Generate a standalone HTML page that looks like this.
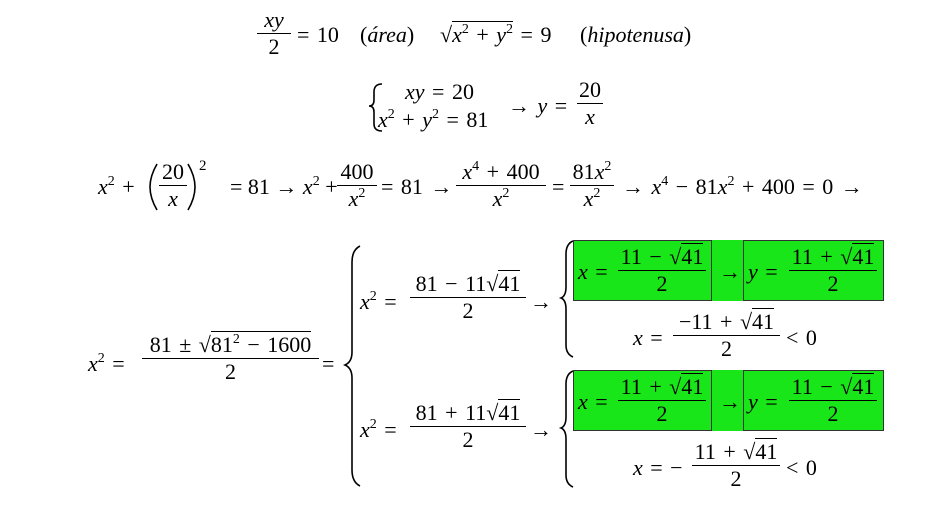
<!DOCTYPE html>
<html><head><meta charset="utf-8"><style>
body{margin:0;background:#fff;}
#c{position:relative;width:938px;height:516px;overflow:hidden;font-family:"Liberation Serif","DejaVu Serif",serif;color:#000;}
.t{position:absolute;white-space:nowrap;line-height:24px;font-size:22px;word-spacing:2px;}
i{font-style:italic;}
sup{font-size:14px;vertical-align:9px;line-height:0;}
.f{position:absolute;font-size:22px;line-height:24px;text-align:center;white-space:nowrap;word-spacing:2px;}
.f .n{padding-bottom:1px;}
.f .d{border-top:1.3px solid #000;padding-top:1px;}
.sq{border-top:1.3px solid #000;}
.g{position:absolute;background:#18e618;}
.b{position:absolute;border:1px solid #333;}
</style></head><body><div id="c">
<svg style="position:absolute;left:0;top:0" width="938" height="516">
<g fill="none" stroke="#000" stroke-width="1.6">
<path d="M382 84 Q374 84 374 92 L374 100 Q374 106 369 106 Q374 106 374 112 L374 124 Q374 131 382 131"/>
<path d="M360 246 Q352 250 352 262 L352 352 Q352 362 345 365 Q352 368 352 378 L352 470 Q352 482 360 486"/>
<path d="M573 241 Q566 244 566 254 L566 287 Q566 296 561 298 Q566 300 566 309 L566 345 Q566 354 573 357"/>
<path d="M573 371 Q566 374 566 384 L566 417 Q566 426 561 428 Q566 430 566 439 L566 475 Q566 484 573 487"/>
<path d="M157 164 Q150 176 150 187 Q150 198 157 210"/>
<path d="M188 164 Q195 176 195 187 Q195 198 188 210"/>
</g></svg>

<!-- row1 -->
<div class="f" style="left:257px;top:8px;width:34px"><div class="n"><i>xy</i></div><div class="d">2</div></div>
<div class="t" style="left:297px;top:23px">= 10</div>
<div class="t" style="left:360px;top:23px">(<i>área</i>)</div>
<div class="t" style="left:440px;top:23px">√<span class="sq"><i>x</i><sup>2</sup> + <i>y</i><sup>2</sup></span> = 9</div>
<div class="t" style="left:580px;top:23px">(<i>hipotenusa</i>)</div>

<!-- row2 -->
<div class="t" style="left:405px;top:80px"><i>xy</i> = 20</div>
<div class="t" style="left:378px;top:108px"><i>x</i><sup>2</sup> + <i>y</i><sup>2</sup> = 81</div>
<div class="t" style="left:508px;top:94px">→ <i>y</i> =</div>
<div class="f" style="left:577px;top:78px;width:26px"><div class="n">20</div><div class="d"><i>x</i></div></div>

<!-- row3 -->
<div class="t" style="left:98px;top:175px"><i>x</i><sup>2</sup> +</div>
<div class="f" style="left:159px;top:160px;width:28px"><div class="n">20</div><div class="d"><i>x</i></div></div>
<div class="t" style="left:199px;top:154px;font-size:15px">2</div>
<div class="t" style="left:230px;top:175px;word-spacing:0">= 81 → <i>x</i><sup>2</sup> +</div>
<div class="f" style="left:337px;top:160px;width:40px"><div class="n">400</div><div class="d"><i>x</i><sup>2</sup></div></div>
<div class="t" style="left:381px;top:175px">= 81 →</div>
<div class="f" style="left:456px;top:160px;width:90px"><div class="n"><i>x</i><sup>4</sup> + 400</div><div class="d"><i>x</i><sup>2</sup></div></div>
<div class="t" style="left:552px;top:175px">=</div>
<div class="f" style="left:570px;top:160px;width:44px"><div class="n">81<i>x</i><sup>2</sup></div><div class="d"><i>x</i><sup>2</sup></div></div>
<div class="t" style="left:622px;top:175px">→ <i>x</i><sup>4</sup> − 81<i>x</i><sup>2</sup> + 400 = 0 →</div>

<!-- row4 -->
<div class="t" style="left:88px;top:352px"><i>x</i><sup>2</sup> =</div>
<div class="f" style="left:142px;top:333px;width:177px"><div class="n">81 ± √<span class="sq">81<sup>2</sup> − 1600</span></div><div class="d">2</div></div>
<div class="t" style="left:322px;top:352px">=</div>

<div class="t" style="left:360px;top:290px"><i>x</i><sup>2</sup> =</div>
<div class="f" style="left:410px;top:272px;width:116px"><div class="n">81 − 11√<span class="sq">41</span></div><div class="d">2</div></div>
<div class="t" style="left:530px;top:290px">→</div>
<div class="t" style="left:360px;top:418px"><i>x</i><sup>2</sup> =</div>
<div class="f" style="left:410px;top:401px;width:116px"><div class="n">81 + 11√<span class="sq">41</span></div><div class="d">2</div></div>
<div class="t" style="left:530px;top:418px">→</div>

<!-- green upper -->
<div class="g" style="left:573px;top:240px;width:310px;height:61px"></div>
<div class="b" style="left:573px;top:240px;width:137px;height:59px"></div>
<div class="b" style="left:743px;top:240px;width:139px;height:59px"></div>
<div class="t" style="left:578px;top:260px"><i>x</i> =</div>
<div class="f" style="left:618px;top:245px;width:88px"><div class="n">11 − √<span class="sq">41</span></div><div class="d">2</div></div>
<div class="t" style="left:719px;top:260px">→</div>
<div class="t" style="left:748px;top:260px"><i>y</i> =</div>
<div class="f" style="left:789px;top:245px;width:88px"><div class="n">11 + √<span class="sq">41</span></div><div class="d">2</div></div>
<div class="t" style="left:633px;top:326px"><i>x</i> =</div>
<div class="f" style="left:673px;top:310px;width:107px"><div class="n">−11 + √<span class="sq">41</span></div><div class="d">2</div></div>
<div class="t" style="left:786px;top:326px">&lt; 0</div>

<!-- green lower -->
<div class="g" style="left:573px;top:370px;width:310px;height:61px"></div>
<div class="b" style="left:573px;top:370px;width:137px;height:59px"></div>
<div class="b" style="left:743px;top:370px;width:139px;height:59px"></div>
<div class="t" style="left:578px;top:390px"><i>x</i> =</div>
<div class="f" style="left:618px;top:375px;width:88px"><div class="n">11 + √<span class="sq">41</span></div><div class="d">2</div></div>
<div class="t" style="left:719px;top:390px">→</div>
<div class="t" style="left:748px;top:390px"><i>y</i> =</div>
<div class="f" style="left:789px;top:375px;width:88px"><div class="n">11 − √<span class="sq">41</span></div><div class="d">2</div></div>
<div class="t" style="left:633px;top:456px"><i>x</i> = −</div>
<div class="f" style="left:692px;top:440px;width:88px"><div class="n">11 + √<span class="sq">41</span></div><div class="d">2</div></div>
<div class="t" style="left:786px;top:456px">&lt; 0</div>
</div></body></html>
